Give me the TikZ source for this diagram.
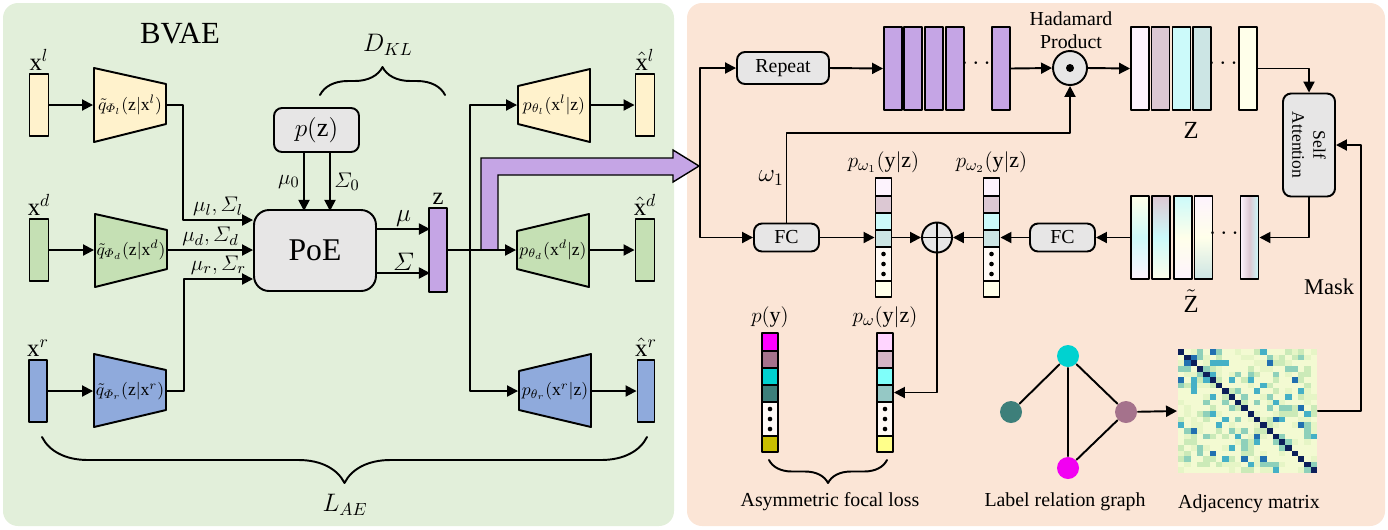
\documentclass[tikz,border=0pt]{standalone}
\usepackage{amsmath}
\usepackage{fontspec}
\setmainfont{Liberation Serif}
\usetikzlibrary{arrows.meta,decorations.pathreplacing,positioning}

\definecolor{bgl}{HTML}{E2EFDA}
\definecolor{bgr}{HTML}{FBE5D6}
\definecolor{ylw}{HTML}{FFF2CC}
\definecolor{grn}{HTML}{C5E0B4}
\definecolor{blu}{HTML}{8FAADC}
\definecolor{pur}{HTML}{C5A5E5}
\definecolor{gry}{HTML}{E7E6E6}
% label colours
\definecolor{py1}{HTML}{FF00FF}
\definecolor{py2}{HTML}{A5728C}
\definecolor{py3}{HTML}{00D2D0}
\definecolor{py4}{HTML}{3D7F7A}
\definecolor{py5}{HTML}{FFFAF6}
\definecolor{py6}{HTML}{C8BE00}
\definecolor{pw1}{HTML}{FFD5FF}
\definecolor{pw2}{HTML}{D5B5C5}
\definecolor{pw3}{HTML}{7FFFFA}
\definecolor{pw4}{HTML}{95C8C5}
\definecolor{pw5}{HTML}{FFFAF6}
\definecolor{pw6}{HTML}{FFFF8A}
\definecolor{pa1}{HTML}{FDF3FD}
\definecolor{pa2}{HTML}{DCC8D3}
\definecolor{pa3}{HTML}{CCFAFA}
\definecolor{pa4}{HTML}{CCE5E4}
\definecolor{pa5}{HTML}{FFFAF6}
\definecolor{pa6}{HTML}{FFFFEA}
% heatmap colours
\definecolor{hm1}{HTML}{F3FAD2}
\definecolor{hm2}{HTML}{E6F5C6}
\definecolor{hm3}{HTML}{CBEAB8}
\definecolor{hm4}{HTML}{8ED0BA}
\definecolor{hm5}{HTML}{45B0C6}
\definecolor{hm6}{HTML}{2170B0}
\definecolor{hmd}{HTML}{0C1F5A}

\begin{document}
\begin{tikzpicture}[x=0.02cm, y=-0.02cm, line join=round, line cap=round, line width=1.1pt,
    >={Triangle[length=2.2mm, width=2.2mm]},
    bar/.style={draw, inner sep=0pt, minimum width=0.38cm, minimum height=1.24cm},
    tall/.style={draw, inner sep=0pt, minimum width=0.36cm, minimum height=1.66cm},
    box/.style={draw, fill=gry, rounded corners=0.16cm, inner sep=0pt},
    coder/.style={inner sep=0pt, minimum width=1.44cm, minimum height=0.8cm, font=\fontsize{10}{12}\selectfont},
    col/.style={inner sep=0pt, minimum width=0.32cm, minimum height=2.38cm},
    lbl/.style={font=\fontsize{14}{16}\selectfont, inner sep=1pt},
    sml/.style={font=\fontsize{12.5}{14}\selectfont, inner sep=2pt},
    txt/.style={font=\fontsize{11.3}{13}\selectfont},
    gnode/.style={circle, inner sep=0pt, minimum size=0.44cm}]

\useasboundingbox (0,0) rectangle (1388,529);

% two panels
\fill[bgl, rounded corners=0.3cm] (3,3) rectangle (674,526);
\fill[bgr, rounded corners=0.3cm] (687,3) rectangle (1385,526);

\node[font=\fontsize{17.5}{20}\selectfont] (bvae) at (180,34) {BVAE};

% inputs
\node[bar, fill=ylw, label={[lbl]above:$\mathrm{x}^{l}$}] (xl) at (39,105) {};
\node[bar, fill=grn, label={[lbl]above:$\mathrm{x}^{d}$}] (xd) at (39,250) {};
\node[bar, fill=blu, minimum width=0.36cm, label={[lbl]above:$\mathrm{x}^{r}$}] (xr) at (38,391) {};

% encoders
\draw[fill=ylw] (94,68) -- (166,84) -- (166,124) -- (94,142) -- cycle;
\draw[fill=grn] (95,214) -- (167,230) -- (167,269) -- (95,287) -- cycle;
\draw[fill=blu] (94,354) -- (166,370) -- (166,410) -- (94,427) -- cycle;
\node[coder] (encl) at (130,105) {$\tilde{q}_{\varPhi_l}(\mathrm{z}|\mathrm{x}^{l})$};
\node[coder] (encd) at (131,250) {$\tilde{q}_{\varPhi_d}(\mathrm{z}|\mathrm{x}^{d})$};
\node[coder] (encr) at (130,391) {$\tilde{q}_{\varPhi_r}(\mathrm{z}|\mathrm{x}^{r})$};
\draw[->] (xl.east) -- (encl.west);
\draw[->] (xd.east) -- (encd.west);
\draw[->] (xr.east) -- (encr.west);

% product of experts
\node[box, rounded corners=0.3cm, minimum width=2.44cm, minimum height=1.62cm, font=\fontsize{18}{20}\selectfont] (poe) at (315,250.5) {PoE};
\node[box, minimum width=1.7cm, minimum height=0.88cm, font=\fontsize{15}{17}\selectfont] (pz) at (316.5,130) {$p(\mathrm{z})$};
\draw[->] ([xshift=-0.25cm]pz.south) -- ++(0,-1.16cm) node[sml, midway, left] {$\mu_0$};
\draw[->] ([xshift=0.27cm]pz.south) -- ++(0,-1.16cm) node[sml, midway, right] {$\varSigma_0$};
\draw[->] (encl.east) -- ++(0.32cm,0) |- ([yshift=0.61cm]poe.west) node[sml, pos=0.75, above] {$\mu_l,\varSigma_l$};
\draw[->] (encd.east) -- (encd.east -| poe.west) node[sml, midway, above] {$\mu_d,\varSigma_d$};
\draw[->] (encr.east) -- ++(0.34cm,0) |- ([yshift=-0.57cm]poe.west) node[sml, pos=0.75, above] {$\mu_r,\varSigma_r$};

% latent z
\node[bar, fill=pur, minimum width=0.36cm, minimum height=1.68cm, label={[lbl]above:$\mathrm{z}$}] (zb) at (438,250) {};
\draw[->] ([yshift=0.43cm]poe.east) -- ++(1.06cm,0) node[lbl, midway, above] {$\mu$};
\draw[->] ([yshift=-0.45cm]poe.east) -- ++(1.06cm,0) node[lbl, midway, above] {$\varSigma$};
\draw[decorate, decoration={brace, amplitude=0.56cm}] (320,95) -- (445,95);
\node[lbl] (dkl) at (388,45) {$D_{KL}$};

% big arrow to the classifier
\draw[fill=pur, line width=0.8pt, line join=miter] (481,250) -- (481,158) -- (673,158) -- (673,150) -- (699,166) -- (673,182) -- (673,175) -- (498,175) -- (498,250);

% decoders
\draw[fill=ylw] (518,86) -- (590,69) -- (590,142) -- (518,124) -- cycle;
\draw[fill=grn] (517,231) -- (589,214) -- (589,287) -- (517,269) -- cycle;
\draw[fill=blu] (519,371) -- (591,354) -- (591,427) -- (519,410) -- cycle;
\node[coder] (decl) at (554,105) {$p_{\theta_l}(\mathrm{x}^{l}|\mathrm{z})$};
\node[coder] (decd) at (553,250) {$p_{\theta_d}(\mathrm{x}^{d}|\mathrm{z})$};
\node[coder] (decr) at (555,391) {$p_{\theta_r}(\mathrm{x}^{r}|\mathrm{z})$};
\coordinate (br) at (470,250);
\draw[->] (zb.east) -- (decd.west);
\draw[->] (br) |- (decl.west);
\draw[->] (br) |- (decr.west);

% reconstructions
\node[bar, fill=ylw, label={[lbl]above:$\hat{\mathrm{x}}^{l}$}] (hl) at (645,105) {};
\node[bar, fill=grn, label={[lbl]above:$\hat{\mathrm{x}}^{d}$}] (hd) at (645,250) {};
\node[bar, fill=blu, minimum width=0.34cm, label={[lbl]above:$\hat{\mathrm{x}}^{r}$}] (hr) at (646,391) {};
\draw[->] (decl.east) -- (hl.west);
\draw[->] (decd.east) -- (hd.west);
\draw[->] (decr.east) -- (hr.west);
\draw[decorate, decoration={brace, amplitude=0.92cm}] (647,437) -- (42,437);
\node[lbl] (lae) at (345,505) {$L_{AE}$};

% right panel: repeat and hadamard product
\coordinate (tip) at (700,166);
\node[box, txt, minimum width=1.84cm, minimum height=0.64cm] (rep) at (783,68) {Repeat};
\draw[->] (tip) |- (rep.west);
\foreach \x [count=\k] in {893,913,934,955,1001}
  \node[tall, fill=pur] (pb\k) at (\x,68.5) {};
\node[lbl] (pdots) at (978,64) {$\cdots$};
\draw[->] (rep.east) -- (pb1.west);
\node[circle, draw, fill=gry, minimum size=0.68cm, inner sep=0pt] (had) at (1070,68) {};
\fill (had.center) circle (0.08cm);
\node[txt, align=center] (hadlbl) at (1071,30) {Hadamard\\Product};
\draw[->] (pb5.east) -- (had.west);

% Z
\foreach \x/\c [count=\k] in {1140/pa1,1160.5/pa2,1181.5/pa3,1202/pa4,1248/pa6}
  \node[tall, fill=\c] (z\k) at (\x,68.5) {};
\node[lbl] (zdots) at (1225,64) {$\cdots$};
\node[lbl] (zlbl) at (1191,130) {$\mathrm{Z}$};
\draw[->] (had.east) -- (z1.west);

% self attention
\node[box, minimum width=1.04cm, minimum height=2.06cm] (sa) at (1309,145) {};
\node[rotate=-90, align=center, font=\fontsize{10}{12}\selectfont] (satxt) at (sa.center) {Self\\Attention};
\draw[->] (z5.east) -| (sa.north);

% Z tilde
\node[tall, top color=pa6, bottom color=pa1, middle color=pa3] (zt1) at (1140,237.5) {};
\node[tall, top color=pa2, bottom color=pa6, middle color=pa3] (zt2) at (1161,237.5) {};
\node[tall, top color=pa3, bottom color=pa1, middle color=pa6] (zt3) at (1183,237.5) {};
\node[tall, top color=pa1, bottom color=pa4, middle color=pa6] (zt4) at (1203.5,237.5) {};
\node[tall, left color=pa1, right color=pa3, middle color=pa2] (zt5) at (1249.5,237.5) {};
\node[lbl] (ztdots) at (1226,234) {$\cdots$};
\node[lbl, inner sep=0pt] (ztlbl) at (1191,301) {$\tilde{\mathrm{Z}}$};
\draw[->] (sa.south) |- (zt5.east);

% classifier heads
\node[box, txt, minimum width=1.3cm, minimum height=0.56cm] (fc1) at (786.5,237.5) {FC};
\node[box, txt, minimum width=1.3cm, minimum height=0.56cm] (fc2) at (1062.5,237.5) {FC};
\foreach \cx/\cy/\p in {770/333/py, 883.5/178/pa, 991.5/178/pa, 885/333/pw}{
  \foreach \a/\b [count=\k] in {0/18,18/35,35/52,52/69,69/103,103/119}
    \draw[fill=\p\k, line width=0.9pt] ({\cx-8},{\cy+\a}) rectangle ({\cx+8},{\cy+\b});
  \foreach \d in {76,86,96}
    \fill (\cx,{\cy+\d}) circle (2.3);
}
\node[col, label={[sml]above:$p_{\omega_1}(\mathrm{y}|\mathrm{z})$}] (pw1) at (883.5,237.5) {};
\node[col, label={[sml]above:$p_{\omega_2}(\mathrm{y}|\mathrm{z})$}] (pw2) at (991.5,237.5) {};
\node[col, label={[sml]above:$p(\mathrm{y})$}] (py) at (770,392.5) {};
\node[col, label={[sml]above:$p_{\omega}(\mathrm{y}|\mathrm{z})$}] (pw) at (885,392.5) {};
\node[circle, draw, fill=gry, minimum size=0.6cm, inner sep=0pt,
  path picture={\draw (path picture bounding box.north) -- (path picture bounding box.south)
    (path picture bounding box.west) -- (path picture bounding box.east);}] (plus) at (937,237.5) {};
\draw[->] (tip) |- (fc1.west);
\draw[->] (fc1.east) -- (pw1.west);
\draw[->] (pw1.east) -- (plus.west);
\draw[->] (zt1.west) -- (fc2.east);
\draw[->] (fc2.west) -- (pw2.east);
\draw[->] (pw2.west) -- (plus.east);
\draw[->] (plus.south) |- (pw.east);
\draw[->] (fc1.north) -- ++(0,1.79cm) node[lbl, midway, left] {$\omega_1$} -| (had.south);
\draw[decorate, decoration={brace, amplitude=0.46cm}] (887,460) -- (769,460);
\node[txt] (afl) at (830,502) {Asymmetric focal loss};

% label relation graph
\node[gnode, fill=py3] (gc) at (1068,356) {};
\node[gnode, fill=py4] (gt) at (1011,412) {};
\node[gnode, fill=py2] (gm) at (1126,412) {};
\node[gnode, fill=py1!95!black] (gp) at (1068,468) {};
\draw (gc) -- (gt);
\draw (gc) -- (gm);
\draw (gc) -- (gp);
\draw (gm) -- (gp);
\node[txt] (lrg) at (1065,502) {Label relation graph};

% adjacency matrix
\pgfmathsetseed{12}
\foreach \i in {0,...,21}{
  \foreach \j in {\i,...,21}{
    \pgfmathtruncatemacro{\k}{100*rnd}
    \ifnum\k<55 \def\hc{hm1}\else\ifnum\k<75 \def\hc{hm2}\else\ifnum\k<85 \def\hc{hm3}\else\ifnum\k<92 \def\hc{hm4}\else\ifnum\k<97 \def\hc{hm5}\else \def\hc{hm6}\fi\fi\fi\fi\fi
    \ifnum\i=\j \def\hc{hmd}\fi
    \fill[\hc] ({1178+\j*6.32},{349+\i*5.64}) rectangle ++(6.4,5.7);
    \fill[\hc] ({1178+\i*6.32},{349+\j*5.64}) rectangle ++(6.4,5.7);
  }
}
\node[inner sep=0pt, minimum width=2.78cm, minimum height=2.48cm] (adj) at (1247.5,411) {};
\node[txt] (adjlbl) at (1249,504) {Adjacency matrix};
\draw[->] (gm) -- (adj.west);
\draw[->] (adj.east) -- ++(0.86cm,0) |- (sa.east) node[pos=0.233, left, font=\fontsize{12.8}{14}\selectfont] {Mask};
\end{tikzpicture}
\end{document}
